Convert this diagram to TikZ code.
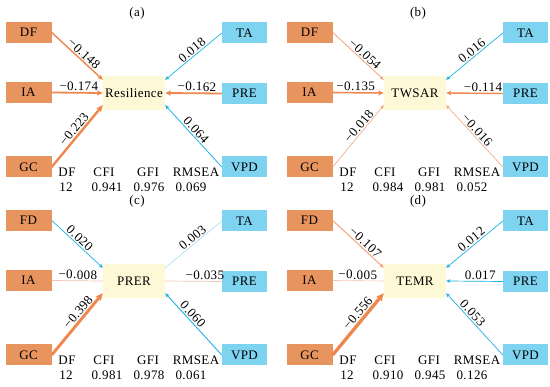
\documentclass[tikz,border=0pt]{standalone}
\usepackage{fontspec}
\setmainfont[LetterSpace=3]{Liberation Serif}
\usetikzlibrary{arrows.meta}
\definecolor{obox}{RGB}{232,148,94}
\definecolor{bbox}{RGB}{125,211,240}
\definecolor{cfill}{RGB}{253,248,214}
\definecolor{oline}{RGB}{238,136,76}
\definecolor{olight}{RGB}{242,166,122}
\definecolor{opale}{RGB}{242,196,176}
\definecolor{bline}{RGB}{28,178,230}
\definecolor{bpale}{RGB}{150,218,242}
\tikzset{
  txt/.style={font=\fontsize{13}{15}\selectfont, inner sep=0pt},
  lbox/.style={txt, fill=obox, minimum width=46pt, minimum height=21pt},
  rbox/.style={txt, fill=bbox, minimum width=45pt, minimum height=21pt},
  cbox/.style={txt, fill=cfill, minimum width=62pt, minimum height=34pt},
  st/.style={txt},
  ttl/.style={txt},
  lab/.style={txt, inner sep=1.2pt, sloped, above},
  tip/.style={-{Stealth[length=3pt 1.4, width=2.6pt 1.3, inset=0.8pt]}},
}
\newcommand\pboxes[6]{%
  \begin{scope}[shift={(#2,#3)}]
    \node[ttl] (#1t) at (137,13) {(#6)};
    \node[lbox] (#1L1) at (28.5,32.5) {#4};
    \node[lbox] (#1L2) at (28.5,92.5) {IA};
    \node[lbox] (#1L3) at (28.5,167) {GC};
    \node[rbox] (#1R1) at (244.5,33) {TA};
    \node[rbox] (#1R2) at (244.5,93.5) {PRE};
    \node[rbox] (#1R3) at (244.5,167) {VPD};
    \node[cbox] (#1C) at (134,93) {#5};
  \end{scope}
  \coordinate (#1UL) at ([yshift=-4pt]#1C.north west);
  \coordinate (#1ML) at (#1C.west);
  \coordinate (#1LL) at ([yshift=5pt]#1C.south west);
  \coordinate (#1UR) at ([yshift=-4pt]#1C.north east);
  \coordinate (#1MR) at (#1C.east);
  \coordinate (#1LR) at ([yshift=5pt]#1C.south east);
}
\newcommand\pstats[6]{%
  \begin{scope}[shift={(#2,#3)}]
    \node[st] (#1h1) at (67,172) {DF};
    \node[st] (#1h2) at (104,172) {CFI};
    \node[st] (#1h3) at (148,172) {GFI};
    \node[st] (#1h4) at (196,172) {RMSEA};
    \node[st] (#1v1) at (66,187) {12};
    \node[st] (#1v2) at (107,187) {#4};
    \node[st] (#1v3) at (149,187) {#5};
    \node[st] (#1v4) at (191,187) {#6};
  \end{scope}
}
% from, to, colour, width, pos, label
\newcommand\pedge[6]{\draw[draw=#3, line width=#4pt, tip] (#1) -- (#2) node[lab, pos=#5] {#6};}
\newcommand\pline[6]{\draw[draw=#3, line width=#4pt] (#1) -- (#2) node[lab, pos=#5] {#6};}
\begin{document}
\begin{tikzpicture}[x=1pt,y=-1pt]
\fill[white] (0,0) rectangle (550,387);
\useasboundingbox (0,0) rectangle (550,387);
% panel a
\pboxes{a}{0}{0}{DF}{Resilience}{a}
\pstats{a}{0}{0}{0.941}{0.976}{0.069}
\pedge{aL1.east}{aUL}{oline}{1.4}{0.55}{−0.148}
\pedge{aL2.east}{aML}{oline}{1.8}{0.53}{−0.174}
\pedge{aL3.east}{aLL}{oline}{2.4}{0.54}{−0.223}
\pedge{aR1.west}{aUR}{bline}{0.7}{0.46}{0.018}
\pedge{aR2.west}{aMR}{oline}{1.8}{0.44}{−0.162}
\pedge{aR3.west}{aLR}{bline}{0.8}{0.53}{0.064}
% panel b
\pboxes{b}{281}{0}{DF}{TWSAR}{b}
\pstats{b}{281}{0}{0.984}{0.981}{0.052}
\pedge{bL1.east}{bUL}{olight}{0.8}{0.55}{−0.054}
\pedge{bL2.east}{bML}{oline}{1.6}{0.45}{−0.135}
\pedge{bL3.east}{bLL}{olight}{0.6}{0.6}{−0.018}
\pedge{bR1.west}{bUR}{bline}{0.7}{0.48}{0.016}
\pedge{bR2.west}{bMR}{oline}{1.4}{0.35}{−0.114}
\pedge{bR3.west}{bLR}{olight}{0.6}{0.53}{−0.016}
% panel c
\pboxes{c}{0}{188}{FD}{PRER}{c}
\pstats{c}{0}{188}{0.981}{0.978}{0.061}
\pedge{cL1.east}{cUL}{bline}{0.7}{0.47}{0.020}
\pline{cL2.east}{cML}{opale}{0.7}{0.51}{−0.008}
\pedge{cL3.east}{cLL}{oline}{2.9}{0.62}{−0.398}
\pline{cR1.west}{cUR}{bpale}{0.5}{0.45}{0.003}
\pline{cR2.west}{cMR}{opale}{0.7}{0.3}{−0.035}
\pedge{cR3.west}{cLR}{bline}{0.9}{0.59}{0.060}
% panel d
\pboxes{d}{281}{188}{FD}{TEMR}{d}
\pstats{d}{281}{188}{0.910}{0.945}{0.126}
\pedge{dL1.east}{dUL}{olight}{1.0}{0.56}{−0.107}
\pline{dL2.east}{dML}{opale}{0.6}{0.49}{−0.005}
\pedge{dL3.east}{dLL}{oline}{3.3}{0.6}{−0.556}
\pedge{dR1.west}{dUR}{bline}{0.7}{0.49}{0.012}
\pedge{dR2.west}{dMR}{bline}{0.7}{0.4}{0.017}
\pedge{dR3.west}{dLR}{bline}{0.7}{0.61}{0.053}
\end{tikzpicture}
\end{document}
